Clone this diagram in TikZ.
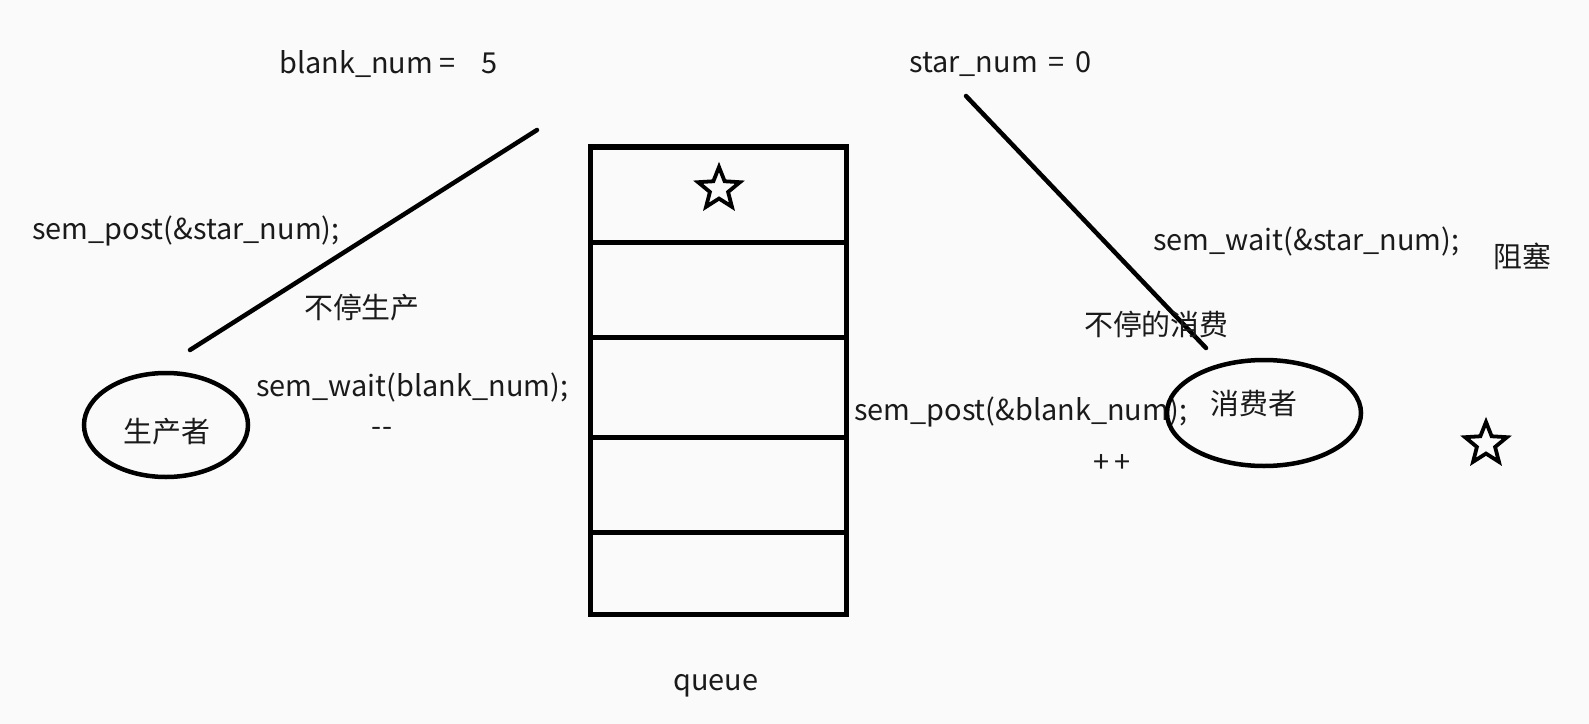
\documentclass[tikz,border=0pt]{standalone}
\usepackage{fontspec}
\setmainfont{Noto Sans CJK SC}
\usetikzlibrary{shapes.geometric}
\definecolor{paper}{HTML}{FAFAFA}
\definecolor{ink}{HTML}{1A1A1A}
\begin{document}
\begin{tikzpicture}[x=1bp,y=-1bp,
  lbl/.style={inner sep=0pt, anchor=west, text=ink, font=\fontsize{29}{34}\selectfont},
  clbl/.style={inner sep=0pt, text=ink, font=\fontsize{29}{34}\selectfont},
  stroke/.style={line width=4.5bp, line cap=round},
  role/.style={ellipse, draw, line width=4.5bp, inner sep=0pt},
  starmark/.style={star, star points=5, star point ratio=2.3, draw, line width=3.8bp, minimum size=44bp, inner sep=0pt},
]
\fill[paper] (0,0) rectangle (1589,724);
\useasboundingbox (0,0) rectangle (1589,724);

% counters
\node[lbl] (blank) at (279,64) {blank\_num =\hspace{26bp}5};
\node[lbl] (star) at (909,64) {star\_num\hspace{11bp}=\hspace{11bp}0};

% producer side
\coordinate (pl1) at (190,350);
\coordinate (pl2) at (537,130);
\draw[stroke] (pl1) -- (pl2);
\node[lbl] (ppost) at (32,231) {sem\_post(\&star\_num);};
\node[lbl] (pkeep) at (304,308) {不停生产};
\node[lbl] (pwait) at (256,388) {sem\_wait(blank\_num);};
\node[clbl] (pdec) at (382,432) {-{}-};
\node[role, minimum width=164bp, minimum height=104bp] (prod) at (166,425) {};
\node[clbl] (prodtxt) at (167,432) {生产者};

% queue
\draw[line width=5bp] (590,147) rectangle (846,614);
\foreach \yy in {242,337,437,532}
  \draw[line width=5bp] (590,\yy) -- (846,\yy);
\node[starmark] (qstar) at (719,189) {};
\node[clbl] (queue) at (716,686) {queue};

% consumer side
\coordinate (cl1) at (966,96);
\coordinate (cl2) at (1206,348);
\draw[stroke] (cl1) -- (cl2);
\node[lbl] (cwait) at (1153,242) {sem\_wait(\&star\_num);};
\node[lbl] (cblock) at (1493,256) {阻塞};
\node[lbl] (ckeep) at (1084,324) {不停的消费};
\node[lbl] (cpost) at (854,412) {sem\_post(\&blank\_num);};
\node[clbl] (cinc) at (1112,464) {+\,+};
\node[role, minimum width=194bp, minimum height=106bp] (cons) at (1264,413) {};
\node[clbl] (constxt) at (1254,404) {消费者};
\node[starmark] (cstar) at (1486,444) {};
\end{tikzpicture}
\end{document}
